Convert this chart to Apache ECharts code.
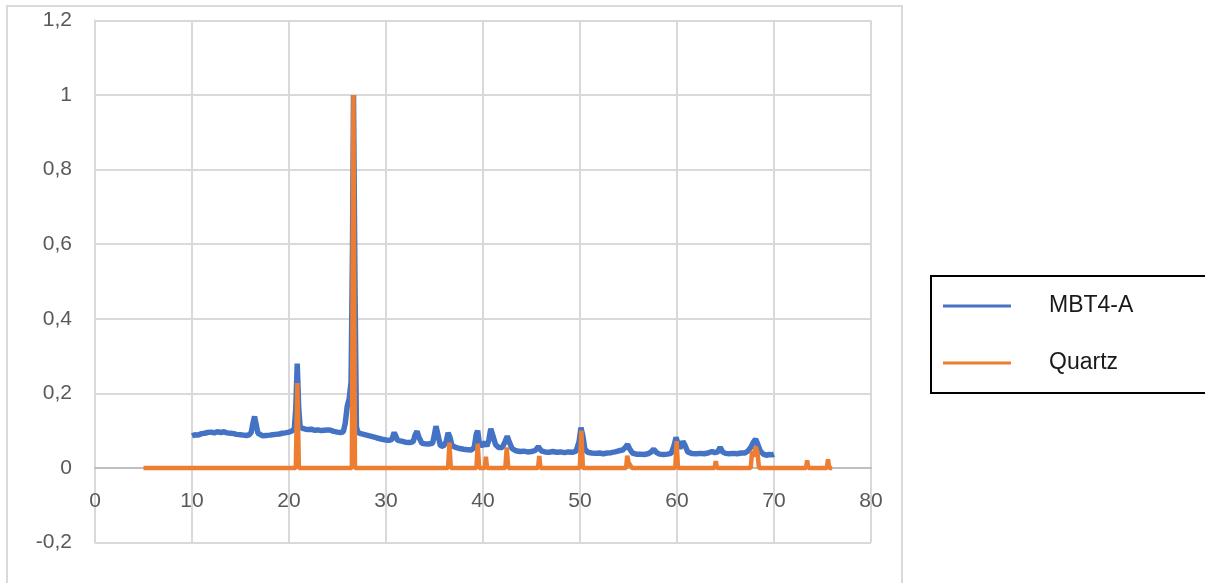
<!DOCTYPE html>
<html>
<head>
<meta charset="utf-8">
<script src="https://cdn.jsdelivr.net/npm/echarts@6/dist/echarts.min.js"></script>
<style>
html,body{margin:0;padding:0;background:#fff;}
#chart{width:1205px;height:583px;}
</style>
</head>
<body>
<div id="chart"></div>
<script>
// Axis ticks
const xTicks = [0, 10, 20, 30, 40, 50, 60, 70, 80];
const yTicks = [-0.2, 0, 0.2, 0.4, 0.6, 0.8, 1, 1.2];
const seriesNames = ['MBT4-A', 'Quartz'];

// MBT4-A (2θ, normalised intensity)
const mbtX = [10.0,10.3,10.6,11.0,11.3,11.6,12.0,12.3,12.6,13.0,13.3,13.6,14.0,14.3,14.6,15.0,15.3,15.6,15.9,16.1,16.3,16.45,16.6,16.8,17.0,17.3,17.6,18.0,18.3,18.6,19.0,19.3,19.6,20.0,20.3,20.55,20.7,20.85,21.0,21.15,21.4,21.7,22.0,22.3,22.6,23.0,23.3,23.6,24.0,24.3,24.6,25.0,25.3,25.6,25.8,26.0,26.2,26.4,26.55,26.65,26.8,26.95,27.1,27.4,27.7,28.0,28.3,28.6,29.0,29.3,29.6,30.0,30.3,30.6,30.85,31.0,31.2,31.6,32.0,32.4,32.8,33.0,33.2,33.4,33.7,34.0,34.4,34.8,35.0,35.15,35.35,35.6,35.9,36.2,36.4,36.6,36.8,37.2,37.6,38.0,38.4,38.8,39.1,39.3,39.45,39.6,39.8,40.0,40.2,40.4,40.6,40.8,41.0,41.3,41.6,42.0,42.3,42.5,42.7,43.0,43.4,43.8,44.2,44.6,45.0,45.4,45.7,46.0,46.4,46.8,47.2,47.6,48.0,48.4,48.8,49.2,49.6,49.9,50.1,50.3,50.5,50.8,51.2,51.6,52.0,52.4,52.8,53.2,53.6,54.0,54.4,54.7,54.9,55.1,55.4,55.8,56.2,56.6,57.0,57.3,57.6,57.9,58.2,58.6,59.0,59.4,59.7,59.9,60.1,60.3,60.6,60.8,61.1,61.5,62.0,62.4,62.8,63.2,63.6,63.9,64.2,64.45,64.7,65.0,65.4,65.8,66.2,66.6,67.0,67.3,67.6,67.9,68.1,68.3,68.6,68.9,69.2,69.5,69.8,70.0];
const mbtY = [0.086,0.089,0.088,0.092,0.093,0.095,0.096,0.094,0.097,0.095,0.097,0.094,0.093,0.092,0.090,0.089,0.088,0.087,0.089,0.095,0.122,0.138,0.118,0.093,0.088,0.086,0.087,0.088,0.089,0.090,0.091,0.093,0.094,0.096,0.099,0.105,0.16,0.28,0.16,0.110,0.106,0.104,0.103,0.104,0.101,0.102,0.100,0.101,0.102,0.101,0.098,0.096,0.095,0.097,0.12,0.165,0.185,0.23,0.6,1.0,0.5,0.11,0.095,0.092,0.090,0.088,0.086,0.084,0.081,0.079,0.077,0.075,0.074,0.076,0.095,0.092,0.074,0.072,0.069,0.068,0.070,0.088,0.098,0.082,0.066,0.065,0.064,0.066,0.09,0.112,0.09,0.060,0.058,0.070,0.094,0.082,0.060,0.055,0.052,0.050,0.049,0.048,0.055,0.090,0.100,0.07,0.058,0.060,0.068,0.058,0.075,0.105,0.088,0.062,0.055,0.055,0.072,0.085,0.07,0.052,0.046,0.044,0.045,0.043,0.044,0.047,0.057,0.046,0.043,0.042,0.044,0.042,0.043,0.041,0.043,0.042,0.045,0.07,0.108,0.085,0.05,0.042,0.040,0.039,0.040,0.038,0.040,0.041,0.043,0.046,0.048,0.056,0.063,0.052,0.040,0.037,0.037,0.036,0.038,0.042,0.050,0.041,0.037,0.036,0.037,0.039,0.06,0.082,0.065,0.052,0.071,0.062,0.043,0.039,0.038,0.039,0.038,0.040,0.044,0.041,0.043,0.055,0.043,0.039,0.038,0.039,0.038,0.040,0.040,0.045,0.055,0.070,0.077,0.065,0.045,0.037,0.034,0.036,0.035,0.037];

// Quartz reference pattern
const qzX = [5,20.7,20.86,21.02,26.48,26.64,26.8,36.4,36.54,36.68,39.32,39.46,39.6,40.18,40.3,40.42,42.3,42.45,42.6,45.67,45.8,45.93,49.98,50.14,50.3,54.75,54.87,55.0,55.2,55.35,59.82,59.96,60.1,63.88,64.0,64.12,65.7,65.8,65.9,67.6,67.74,67.85,68.14,68.3,68.45,73.3,73.42,73.54,75.45,75.57,75.69,76];
const qzY = [0,0,0.228,0,0,1.0,0,0,0.068,0,0,0.065,0,0,0.03,0,0,0.055,0,0,0.032,0,0,0.1,0,0,0.033,0.015,0.012,0,0,0.072,0,0,0.018,0,0,0.004,0,0,0.045,0.03,0.057,0.04,0,0,0.02,0,0,0.023,0,0];

const pairs = (xs, ys) => xs.map((x, i) => [x, ys[i]]);

const GRID_TOP = 20.5, GRID_BOTTOM = 40.5, H = 583;
const plotH = H - GRID_TOP - GRID_BOTTOM;
// distance from the bottom of the plot (-0.2) up to the zero line
const zeroOffset = plotH * (0 - yTicks[0]) / (yTicks[yTicks.length - 1] - yTicks[0]);

const chart = echarts.init(document.getElementById('chart'));
const fmt = v => String(Math.round(v * 10) / 10).replace('.', ',');

chart.setOption({
  animation: false,
  backgroundColor: '#fff',
  textStyle: { fontFamily: 'Liberation Sans, Arial, sans-serif' },
  graphic: [
    { type: 'rect', z: -10, shape: { x: 7, y: 6, width: 895, height: 620 },
      style: { fill: 'none', stroke: '#d9d9d9', lineWidth: 2 } },
    { type: 'rect', z: -10, shape: { x: 931, y: 276, width: 300, height: 117 },
      style: { fill: 'none', stroke: '#000', lineWidth: 2 } }
  ],
  grid: { left: 95, right: 334, top: GRID_TOP, bottom: GRID_BOTTOM, containLabel: false },
  legend: {
    orient: 'vertical',
    left: 938, top: 289,
    icon: 'rect',
    itemWidth: 68, itemHeight: 3,
    itemGap: 33,
    data: seriesNames,
    textStyle: { fontSize: 23, color: '#1a1a1a', lineHeight: 24, padding: [0, 0, 0, 33] }
  },
  xAxis: {
    type: 'value', min: xTicks[0], max: xTicks[xTicks.length - 1], interval: 10,
    offset: -zeroOffset,
    axisLine: { onZero: false, lineStyle: { color: '#bfbfbf', width: 2 } },
    axisTick: { show: false },
    axisLabel: { fontSize: 21, color: '#595959', margin: 23 },
    splitLine: { show: true, lineStyle: { color: '#d9d9d9', width: 2 } }
  },
  yAxis: {
    type: 'value', min: yTicks[0], max: yTicks[yTicks.length - 1], interval: 0.2,
    axisLine: { show: true, onZero: false, lineStyle: { color: '#d9d9d9', width: 2 } },
    axisTick: { show: false },
    axisLabel: { fontSize: 21, color: '#595959', margin: 23, formatter: fmt },
    splitLine: { show: true, lineStyle: { color: '#d9d9d9', width: 2 } }
  },
  series: [
    { name: seriesNames[0], type: 'line', data: pairs(mbtX, mbtY), showSymbol: false, symbol: 'none',
      lineStyle: { color: '#4472c4', width: 5.5 }, itemStyle: { color: '#4472c4' }, z: 2 },
    { name: seriesNames[1], type: 'line', data: pairs(qzX, qzY), showSymbol: false, symbol: 'none',
      lineStyle: { color: '#ed7d31', width: 4.5 }, itemStyle: { color: '#ed7d31' }, z: 3 }
  ]
});
</script>
</body>
</html>
